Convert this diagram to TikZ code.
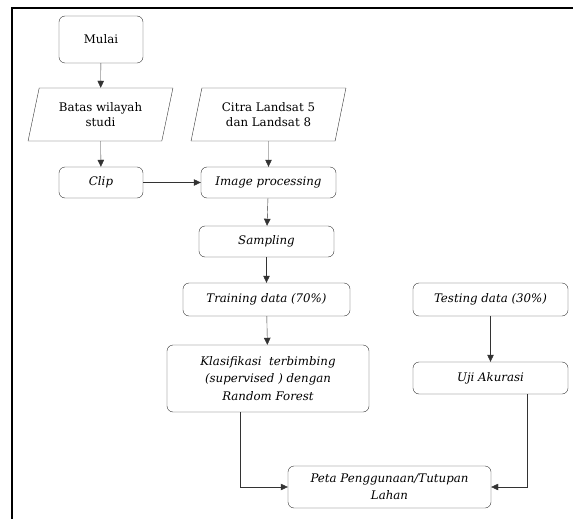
\documentclass[tikz,border=0pt]{standalone}
\usepackage{fontspec}
\setmainfont{DejaVu Serif}
\usepackage{tikz}
\usetikzlibrary{shapes.geometric,arrows.meta,positioning}

\begin{document}
\begin{tikzpicture}[x=1pt,y=-1pt,font=\fontsize{11.8}{14.5}\selectfont,
  process/.style={draw=black!80,rounded corners=6pt,align=center,inner sep=2pt},
  data/.style={draw=black!80,trapezium,trapezium left angle=74,trapezium right angle=106,
    trapezium stretches=true,align=center,inner sep=2pt},
  arr/.style={draw=black!80,-{Triangle[length=7pt,width=6.5pt]}}]
  \useasboundingbox (0,0) rectangle (573,519);
  % frame
  \draw[line width=1.4pt] (12,519) -- (12,8) -- (573,8);
  % Now the left column
  \node[process,minimum width=84pt,minimum height=47pt] (mulai) at (101,39.5) {Mulai};
  \node[data,minimum width=145pt,minimum height=53pt] (batas) at (100.5,114.5) {Batas wilayah\\studi};
  \node[process,minimum width=84pt,minimum height=31pt] (clip) at (101,182.5) {\itshape Clip};
  % Now the main column
  \node[data,minimum width=155pt,minimum height=53pt] (citra) at (268.5,114.5) {Citra Landsat 5\\dan Landsat 8};
  \node[process,minimum width=135pt,minimum height=31pt] (imgproc) at (268.5,182.5) {\itshape Image processing};
  \node[process,minimum width=135pt,minimum height=31pt] (sampling) at (266.5,241.5) {\itshape Sampling};
  \node[process,minimum width=167pt,minimum height=33pt] (training) at (266.5,299.5) {\itshape Training data (70\%)};
  \node[process,minimum width=202pt,minimum height=67pt,font=\fontsize{11.8}{17.5}\selectfont\itshape] (klas) at (268,378.5)
    {Klasifikasi\ \ terbimbing\\(supervised\ ) dengan\\Random Forest};
  % Now the right column
  \node[process,minimum width=155pt,minimum height=33pt] (testing) at (490.5,299.5) {\itshape Testing data (30\%)};
  \node[process,minimum width=155pt,minimum height=32pt] (uji) at (490.5,378) {\itshape Uji Akurasi};
  \node[process,minimum width=203pt,minimum height=42pt,font=\fontsize{11.8}{17}\selectfont\itshape] (peta) at (389.5,487)
    {Peta Penggunaan/Tutupan\\Lahan};
  % Draw the arrows
  \path[arr] (mulai) -- (batas);
  \path[arr] (batas) -- (clip);
  \path[arr] (citra) -- (imgproc);
  \path[arr] (clip) -- (imgproc);
  \path[arr] (imgproc) -- (sampling);
  \path[arr] (sampling) -- (training);
  \path[arr] (training) -- (klas);
  \path[arr] (testing) -- (uji);
  \path[arr] ([xshift=-28pt]klas.south) |- (peta.west);
  \path[arr] ([xshift=36.5pt]uji.south) |- (peta.east);
\end{tikzpicture}
\end{document}
